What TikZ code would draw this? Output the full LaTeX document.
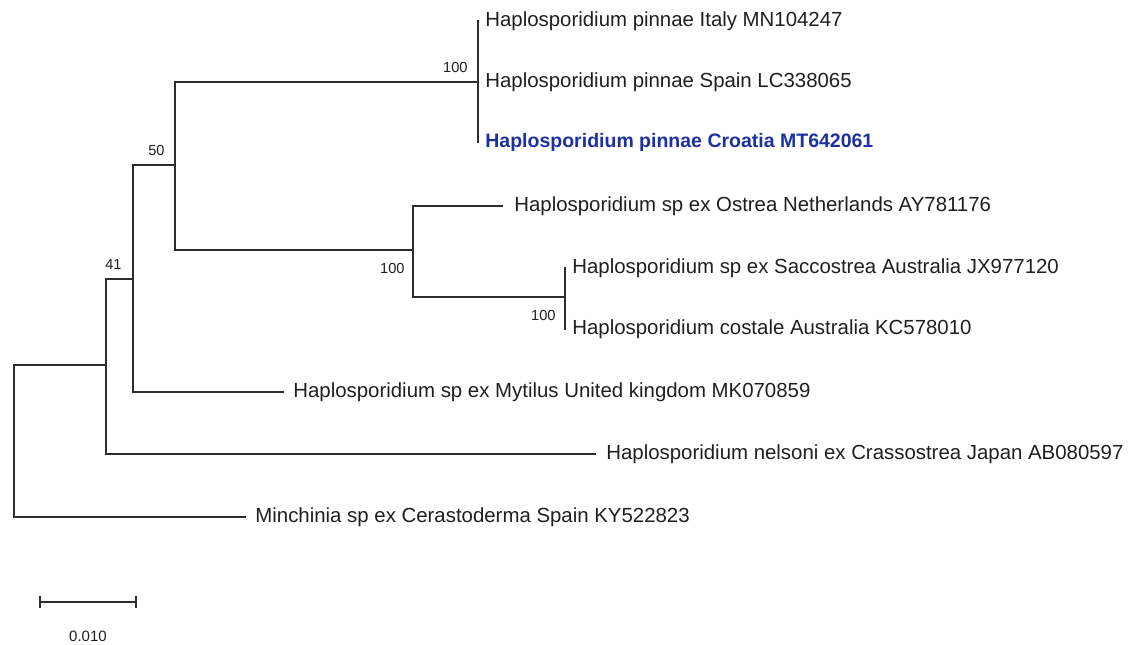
\documentclass[tikz,border=0pt]{standalone}
\usepackage{fontspec}
\setmainfont{Liberation Sans}
\usetikzlibrary{positioning}
\definecolor{treegray}{RGB}{45,45,45}
\definecolor{taxonblue}{RGB}{28,48,160}
\tikzset{
  every node/.style={font=\rmfamily},
  branch/.style={draw=treegray, line width=0.8pt, line cap=rect},
  leaf/.style={anchor=west, inner sep=0pt, text=black!88,
    font=\fontsize{10.2}{12}\selectfont},
  new leaf/.style={leaf, text=taxonblue, font=\fontsize{9.75}{11}\selectfont\bfseries},
  support/.style={inner sep=0pt, text=black!88, font=\fontsize{7.3}{8}\selectfont},
  scale label/.style={support, font=\fontsize{7.5}{8}\selectfont}
}

\begin{document}
\begin{tikzpicture}[x=0.5pt,y=-0.5pt]
  \useasboundingbox (0,0) rectangle (1131,644);

  % internal nodes
  \coordinate (root) at (14,441);
  \coordinate (n41) at (106,365);
  \coordinate (n50) at (133,279);
  \coordinate (nA) at (175,165);
  \coordinate (npin) at (478,82);
  \coordinate (nB) at (413,250);
  \coordinate (nC) at (565,297);

  % tips
  \coordinate (t1) at (478,21);
  \coordinate (t2) at (478,82);
  \coordinate (t3) at (478,142);
  \coordinate (t4) at (502,206);
  \coordinate (t5) at (565,268);
  \coordinate (t6) at (565,329);
  \coordinate (t7) at (283,392);
  \coordinate (t8) at (595,454);
  \coordinate (t9) at (245,517);

  % branches
  \draw[branch] (root) |- (n41);
  \draw[branch] (root) |- (t9);
  \draw[branch] (n41) |- (n50);
  \draw[branch] (n41) |- (t8);
  \draw[branch] (n50) |- (nA);
  \draw[branch] (n50) |- (t7);
  \draw[branch] (nA) |- (npin);
  \draw[branch] (nA) |- (nB);
  \draw[branch] (npin) -- (t1);
  \draw[branch] (npin) -- (t3);
  \draw[branch] (nB) |- (t4);
  \draw[branch] (nB) |- (nC);
  \draw[branch] (nC) -- (t5);
  \draw[branch] (nC) -- (t6);

  % taxa
  \node[leaf, right=3.5pt of t1] (l1) {Haplosporidium pinnae Italy MN104247};
  \node[leaf, right=3.5pt of t2] (l2) {Haplosporidium pinnae Spain LC338065};
  \node[new leaf, right=3.5pt of t3] (l3) {Haplosporidium pinnae Croatia MT642061};
  \node[leaf, right=6pt of t4] (l4) {Haplosporidium sp ex Ostrea Netherlands AY781176};
  \node[leaf, right=3.5pt of t5] (l5) {Haplosporidium sp ex Saccostrea Australia JX977120};
  \node[leaf, right=3.5pt of t6] (l6) {Haplosporidium costale Australia KC578010};
  \node[leaf, right=5pt of t7] (l7) {Haplosporidium sp ex Mytilus United kingdom MK070859};
  \node[leaf, right=5.5pt of t8] (l8) {Haplosporidium nelsoni ex Crassostrea Japan AB080597};
  \node[leaf, right=5pt of t9] (l9) {Minchinia sp ex Cerastoderma Spain KY522823};

  % bootstrap values
  \node[support, above left=4.5pt and 5pt of npin] (b1) {100};
  \node[support, above left=4.5pt and 5pt of nA] (b2) {50};
  \node[support, above left=4.5pt and 5.5pt of n50] (b3) {41};
  \node[support, below left=6.5pt and 4pt of nB] (b4) {100};
  \node[support, below left=6.5pt and 4.5pt of nC] (b5) {100};

  % scale bar
  \coordinate (s0) at (40,602);
  \coordinate (s1) at (136,602);
  \draw[branch] (s0) -- (s1);
  \draw[branch] ([yshift=-2.5pt]s0) -- ([yshift=2.5pt]s0);
  \draw[branch] ([yshift=-2.5pt]s1) -- ([yshift=2.5pt]s1);
  \node[scale label] (sl) at (88,636) {0.010};
\end{tikzpicture}
\end{document}
